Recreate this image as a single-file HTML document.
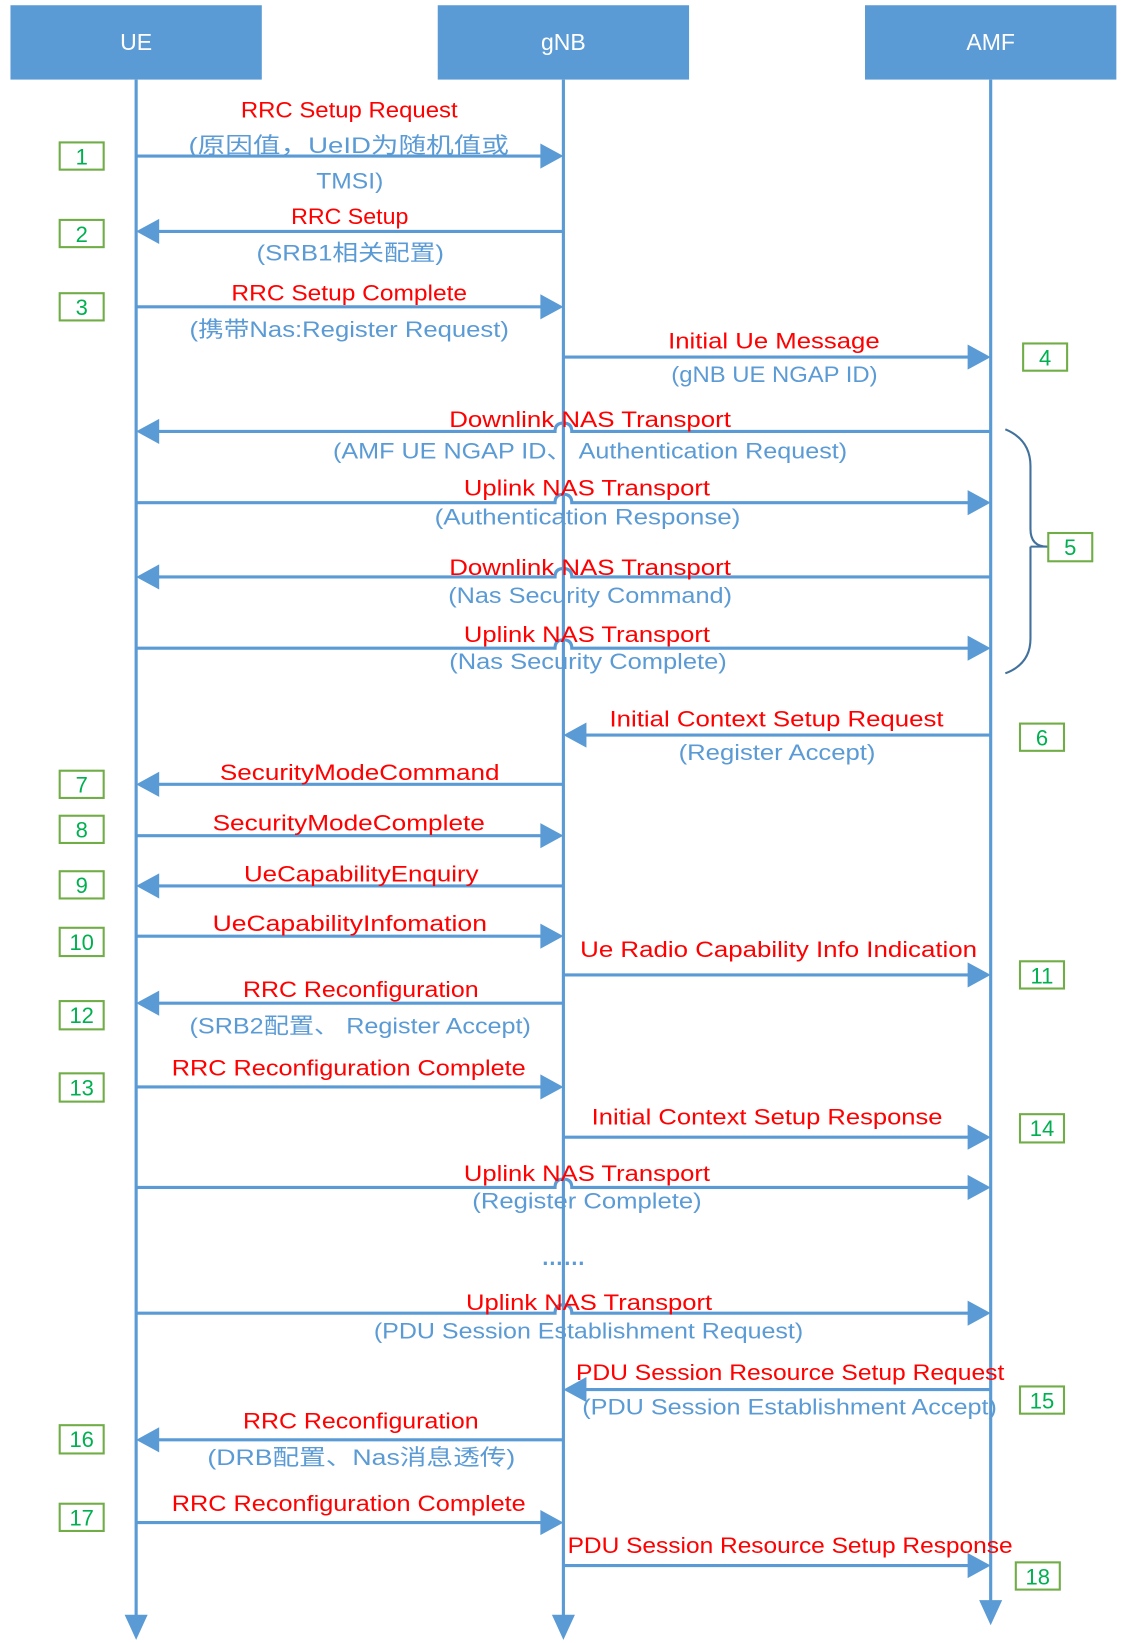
<!DOCTYPE html>
<html><head><meta charset="utf-8"><style>
html,body{margin:0;padding:0;background:#fff;}
svg{display:block;}
text{font-family:"Liberation Sans","Noto Sans CJK SC",sans-serif;font-size:21px;}
.r{fill:#ff0000;}
.b{fill:#5b9bd5;}
.g{fill:#00b050;font-size:21px;}
.h{fill:#fff;font-size:22px;}
.ln{stroke:#5b9bd5;stroke-width:3;fill:none;}
.ah{fill:#5b9bd5;}
.bx{fill:#fff;stroke:#70ad47;stroke-width:2;}
</style></head><body>
<svg width="1131" height="1643" viewBox="0 0 1080 1569" preserveAspectRatio="none" xmlns="http://www.w3.org/2000/svg">
<!-- headers -->
<rect x="10" y="5" width="240" height="71" fill="#5b9bd5"/>
<rect x="418" y="5" width="240" height="71" fill="#5b9bd5"/>
<rect x="826" y="5" width="240" height="71" fill="#5b9bd5"/>
<text class="h" x="130" y="48" text-anchor="middle">UE</text>
<text class="h" x="538" y="48" text-anchor="middle">gNB</text>
<text class="h" x="946" y="48" text-anchor="middle">AMF</text>
<!-- lifelines -->
<line class="ln" x1="130" y1="76" x2="130" y2="1545"/>
<line class="ln" x1="538" y1="76" x2="538" y2="1545"/>
<line class="ln" x1="946" y1="76" x2="946" y2="1530"/>
<polygon class="ah" points="119,1542 141,1542 130,1566"/>
<polygon class="ah" points="527,1542 549,1542 538,1566"/>
<polygon class="ah" points="935,1528 957,1528 946,1552"/>

<!-- arrows: helper shapes -->
<!-- 1 -->
<line class="ln" x1="130" y1="149" x2="518" y2="149"/><polygon class="ah" points="538,149 516,137 516,161"/>
<!-- 2 -->
<line class="ln" x1="150" y1="221" x2="538" y2="221"/><polygon class="ah" points="130,221 152,209 152,233"/>
<!-- 3 -->
<line class="ln" x1="130" y1="293" x2="518" y2="293"/><polygon class="ah" points="538,293 516,281 516,305"/>
<!-- 4 -->
<line class="ln" x1="538" y1="341" x2="926" y2="341"/><polygon class="ah" points="946,341 924,329 924,353"/>
<!-- 5 group with hops -->
<path class="ln" d="M150 412 H530 q0,-8 8,-8 q8,0 8,8 H946"/><polygon class="ah" points="130,412 152,400 152,424"/>
<path class="ln" d="M130 480 H530 q0,-8 8,-8 q8,0 8,8 H926"/><polygon class="ah" points="946,480 924,468 924,492"/>
<path class="ln" d="M150 551 H530 q0,-8 8,-8 q8,0 8,8 H946"/><polygon class="ah" points="130,551 152,539 152,563"/>
<path class="ln" d="M130 619 H530 q0,-8 8,-8 q8,0 8,8 H926"/><polygon class="ah" points="946,619 924,607 924,631"/>
<!-- 6 -->
<line class="ln" x1="558" y1="702" x2="946" y2="702"/><polygon class="ah" points="538,702 560,690 560,714"/>
<!-- 7 -->
<line class="ln" x1="150" y1="749" x2="538" y2="749"/><polygon class="ah" points="130,749 152,737 152,761"/>
<!-- 8 -->
<line class="ln" x1="130" y1="798" x2="518" y2="798"/><polygon class="ah" points="538,798 516,786 516,810"/>
<!-- 9 -->
<line class="ln" x1="150" y1="846" x2="538" y2="846"/><polygon class="ah" points="130,846 152,834 152,858"/>
<!-- 10 -->
<line class="ln" x1="130" y1="894" x2="518" y2="894"/><polygon class="ah" points="538,894 516,882 516,906"/>
<!-- 11 -->
<line class="ln" x1="538" y1="931" x2="926" y2="931"/><polygon class="ah" points="946,931 924,919 924,943"/>
<!-- 12 -->
<line class="ln" x1="150" y1="958" x2="538" y2="958"/><polygon class="ah" points="130,958 152,946 152,970"/>
<!-- 13 -->
<line class="ln" x1="130" y1="1038" x2="518" y2="1038"/><polygon class="ah" points="538,1038 516,1026 516,1050"/>
<!-- 14 -->
<line class="ln" x1="538" y1="1086" x2="926" y2="1086"/><polygon class="ah" points="946,1086 924,1074 924,1098"/>
<!-- uplink register complete -->
<path class="ln" d="M130 1134 H530 q0,-8 8,-8 q8,0 8,8 H926"/><polygon class="ah" points="946,1134 924,1122 924,1146"/>
<!-- uplink pdu -->
<path class="ln" d="M130 1254 H530 q0,-8 8,-8 q8,0 8,8 H926"/><polygon class="ah" points="946,1254 924,1242 924,1266"/>
<!-- 15 -->
<line class="ln" x1="558" y1="1327" x2="946" y2="1327"/><polygon class="ah" points="538,1327 560,1315 560,1339"/>
<!-- 16 -->
<line class="ln" x1="150" y1="1375" x2="538" y2="1375"/><polygon class="ah" points="130,1375 152,1363 152,1387"/>
<!-- 17 -->
<line class="ln" x1="130" y1="1454" x2="518" y2="1454"/><polygon class="ah" points="538,1454 516,1442 516,1466"/>
<!-- 18 -->
<line class="ln" x1="538" y1="1495" x2="926" y2="1495"/><polygon class="ah" points="946,1495 924,1483 924,1507"/>

<!-- brace -->
<path d="M960 410 Q984 420 984 445 V505 Q984 522 1000 522 M984 522 Q984 522 984 540 V610 Q984 634 960 643" fill="none" stroke="#41719c" stroke-width="2"/>
<line x1="984" y1="522" x2="1001" y2="522" stroke="#41719c" stroke-width="2"/>

<!-- labels -->
<g lengthAdjust="spacingAndGlyphs">
<text class="r" x="230" y="112" textLength="207" lengthAdjust="spacingAndGlyphs">RRC Setup Request</text>
<text class="b" x="180" y="146" textLength="306" lengthAdjust="spacingAndGlyphs">(原因值，UeID为随机值或</text>
<text class="b" x="302" y="180" textLength="64" lengthAdjust="spacingAndGlyphs">TMSI)</text>
<text class="r" x="278" y="214" textLength="112" lengthAdjust="spacingAndGlyphs">RRC Setup</text>
<text class="b" x="245" y="249" textLength="179" lengthAdjust="spacingAndGlyphs">(SRB1相关配置)</text>
<text class="r" x="221" y="287" textLength="225" lengthAdjust="spacingAndGlyphs">RRC Setup Complete</text>
<text class="b" x="181" y="322" textLength="305" lengthAdjust="spacingAndGlyphs">(携带Nas:Register Request)</text>
<text class="r" x="638" y="333" textLength="202" lengthAdjust="spacingAndGlyphs">Initial Ue Message</text>
<text class="b" x="641" y="365" textLength="197" lengthAdjust="spacingAndGlyphs">(gNB UE NGAP ID)</text>
<text class="r" x="429" y="408" textLength="269" lengthAdjust="spacingAndGlyphs">Downlink NAS Transport</text>
<text class="b" x="318" y="438" textLength="491" lengthAdjust="spacingAndGlyphs">(AMF UE NGAP ID、 Authentication Request)</text>
<text class="r" x="443" y="473" textLength="235" lengthAdjust="spacingAndGlyphs">Uplink NAS Transport</text>
<text class="b" x="415" y="501" textLength="292" lengthAdjust="spacingAndGlyphs">(Authentication Response)</text>
<text class="r" x="429" y="549" textLength="269" lengthAdjust="spacingAndGlyphs">Downlink NAS Transport</text>
<text class="b" x="428" y="576" textLength="271" lengthAdjust="spacingAndGlyphs">(Nas Security Command)</text>
<text class="r" x="443" y="613" textLength="235" lengthAdjust="spacingAndGlyphs">Uplink NAS Transport</text>
<text class="b" x="429" y="639" textLength="265" lengthAdjust="spacingAndGlyphs">(Nas Security Complete)</text>
<text class="r" x="582" y="694" textLength="319" lengthAdjust="spacingAndGlyphs">Initial Context Setup Request</text>
<text class="b" x="648" y="726" textLength="188" lengthAdjust="spacingAndGlyphs">(Register Accept)</text>
<text class="r" x="210" y="745" textLength="267" lengthAdjust="spacingAndGlyphs">SecurityModeCommand</text>
<text class="r" x="203" y="793" textLength="260" lengthAdjust="spacingAndGlyphs">SecurityModeComplete</text>
<text class="r" x="233" y="842" textLength="224" lengthAdjust="spacingAndGlyphs">UeCapabilityEnquiry</text>
<text class="r" x="203" y="889" textLength="262" lengthAdjust="spacingAndGlyphs">UeCapabilityInfomation</text>
<text class="r" x="554" y="914" textLength="379" lengthAdjust="spacingAndGlyphs">Ue Radio Capability Info Indication</text>
<text class="r" x="232" y="952" textLength="225" lengthAdjust="spacingAndGlyphs">RRC Reconfiguration</text>
<text class="b" x="181" y="987" textLength="326" lengthAdjust="spacingAndGlyphs">(SRB2配置、 Register Accept)</text>
<text class="r" x="164" y="1027" textLength="338" lengthAdjust="spacingAndGlyphs">RRC Reconfiguration Complete</text>
<text class="r" x="565" y="1074" textLength="335" lengthAdjust="spacingAndGlyphs">Initial Context Setup Response</text>
<text class="r" x="443" y="1128" textLength="235" lengthAdjust="spacingAndGlyphs">Uplink NAS Transport</text>
<text class="b" x="451" y="1154" textLength="219" lengthAdjust="spacingAndGlyphs">(Register Complete)</text>
<text class="b" x="538" y="1208" text-anchor="middle" style="font-weight:bold">……</text>
<text class="r" x="445" y="1251" textLength="235" lengthAdjust="spacingAndGlyphs">Uplink NAS Transport</text>
<text class="b" x="357" y="1278" textLength="410" lengthAdjust="spacingAndGlyphs">(PDU Session Establishment Request)</text>
<text class="r" x="550" y="1318" textLength="409" lengthAdjust="spacingAndGlyphs">PDU Session Resource Setup Request</text>
<text class="b" x="556" y="1351" textLength="396" lengthAdjust="spacingAndGlyphs">(PDU Session Establishment Accept)</text>
<text class="r" x="232" y="1364" textLength="225" lengthAdjust="spacingAndGlyphs">RRC Reconfiguration</text>
<text class="b" x="198" y="1399" textLength="294" lengthAdjust="spacingAndGlyphs">(DRB配置、Nas消息透传)</text>
<text class="r" x="164" y="1443" textLength="338" lengthAdjust="spacingAndGlyphs">RRC Reconfiguration Complete</text>
<text class="r" x="542" y="1483" textLength="425" lengthAdjust="spacingAndGlyphs">PDU Session Resource Setup Response</text>
</g>

<!-- number boxes -->
<rect class="bx" x="57" y="136" width="42" height="26"/><text class="g" x="78" y="157" text-anchor="middle">1</text>
<rect class="bx" x="57" y="210" width="42" height="26"/><text class="g" x="78" y="231" text-anchor="middle">2</text>
<rect class="bx" x="57" y="280" width="42" height="26"/><text class="g" x="78" y="301" text-anchor="middle">3</text>
<rect class="bx" x="977" y="328" width="42" height="26"/><text class="g" x="998" y="349" text-anchor="middle">4</text>
<rect class="bx" x="1001" y="509" width="42" height="27"/><text class="g" x="1022" y="530" text-anchor="middle">5</text>
<rect class="bx" x="974" y="691" width="42" height="26"/><text class="g" x="995" y="712" text-anchor="middle">6</text>
<rect class="bx" x="57" y="736" width="42" height="26"/><text class="g" x="78" y="757" text-anchor="middle">7</text>
<rect class="bx" x="57" y="779" width="42" height="26"/><text class="g" x="78" y="800" text-anchor="middle">8</text>
<rect class="bx" x="57" y="832" width="42" height="26"/><text class="g" x="78" y="853" text-anchor="middle">9</text>
<rect class="bx" x="57" y="886" width="42" height="27"/><text class="g" x="78" y="907" text-anchor="middle">10</text>
<rect class="bx" x="974" y="918" width="42" height="26"/><text class="g" x="995" y="939" text-anchor="middle">11</text>
<rect class="bx" x="57" y="956" width="42" height="27"/><text class="g" x="78" y="977" text-anchor="middle">12</text>
<rect class="bx" x="57" y="1025" width="42" height="27"/><text class="g" x="78" y="1046" text-anchor="middle">13</text>
<rect class="bx" x="974" y="1064" width="42" height="27"/><text class="g" x="995" y="1085" text-anchor="middle">14</text>
<rect class="bx" x="974" y="1324" width="42" height="26"/><text class="g" x="995" y="1345" text-anchor="middle">15</text>
<rect class="bx" x="57" y="1361" width="42" height="27"/><text class="g" x="78" y="1382" text-anchor="middle">16</text>
<rect class="bx" x="57" y="1436" width="42" height="26"/><text class="g" x="78" y="1457" text-anchor="middle">17</text>
<rect class="bx" x="970" y="1492" width="42" height="26"/><text class="g" x="991" y="1513" text-anchor="middle">18</text>
</svg>
</body></html>
